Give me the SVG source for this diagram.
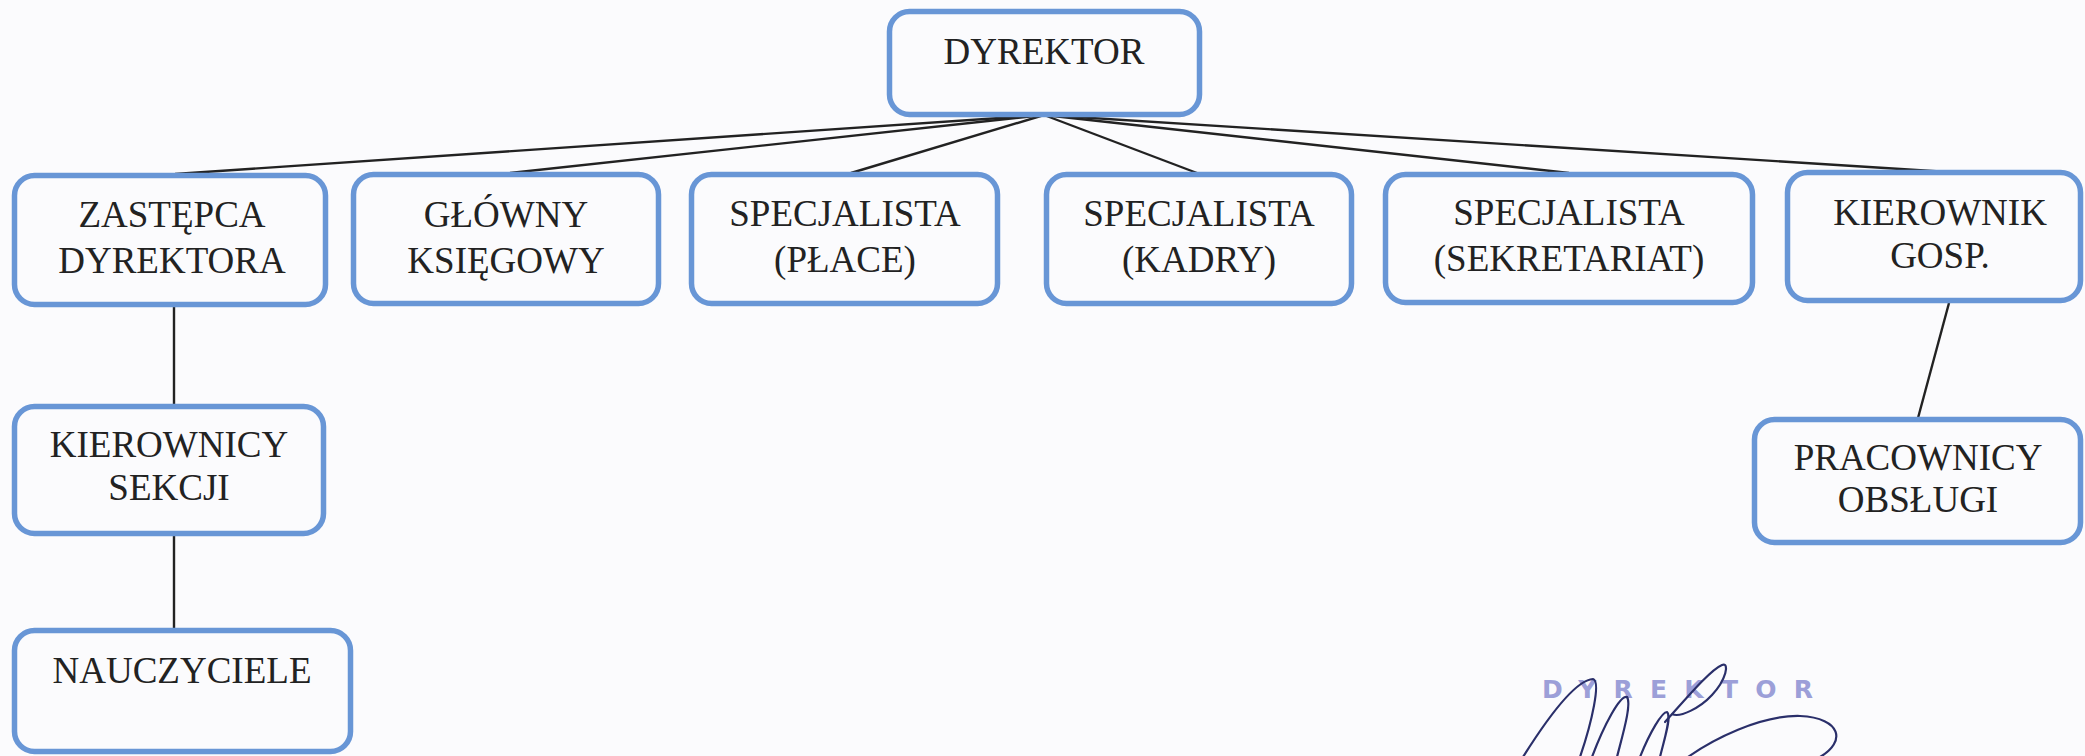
<svg xmlns="http://www.w3.org/2000/svg" width="2085" height="756" viewBox="0 0 2085 756">
  <style>
    .box { fill: #fbfbfd; stroke: #6896d6; stroke-width: 5.5; }
    .lbl { font-family: "Liberation Serif", "Times New Roman", serif; font-size: 37px; fill: #222; text-anchor: middle; }
    .conn line { stroke: #222; stroke-width: 2.4; }
    .stamp { font-family: "DejaVu Sans", "Liberation Sans", sans-serif; font-weight: bold; font-size: 25px; fill: #9c9fd8; }
    .sig { fill: none; stroke: #2a2f6a; stroke-width: 2.2; stroke-linecap: round; }
  </style>
  <rect x="0" y="0" width="2085" height="756" fill="#fbfbfd"/>

  <g id="connectors" class="conn">
    <line x1="1044" y1="115" x2="175" y2="174"/>
    <line x1="1044" y1="115" x2="510" y2="173"/>
    <line x1="1044" y1="115" x2="851" y2="173"/>
    <line x1="1044" y1="115" x2="1197" y2="173"/>
    <line x1="1044" y1="115" x2="1569" y2="173"/>
    <line x1="1044" y1="115" x2="1948" y2="172"/>
    <line x1="174" y1="307" x2="174" y2="405"/>
    <line x1="174" y1="535" x2="174" y2="629"/>
    <line x1="1949" y1="303" x2="1918" y2="418"/>
  </g>

  <g id="n-dyrektor">
    <rect class="box" x="889.5" y="11.5" width="310" height="103" rx="20"/>
    <text class="lbl" x="1044" y="64">DYREKTOR</text>
  </g>

  <g id="n-zastepca">
    <rect class="box" x="14.5" y="175.5" width="311" height="129" rx="20"/>
    <text class="lbl" x="172" y="227">ZASTĘPCA</text>
    <text class="lbl" x="172" y="273">DYREKTORA</text>
  </g>

  <g id="n-glowny">
    <rect class="box" x="353.5" y="174.5" width="305" height="129" rx="20"/>
    <text class="lbl" x="506" y="227">GŁÓWNY</text>
    <text class="lbl" x="506" y="273">KSIĘGOWY</text>
  </g>

  <g id="n-place">
    <rect class="box" x="691.5" y="174.5" width="306" height="129" rx="20"/>
    <text class="lbl" x="845" y="226">SPECJALISTA</text>
    <text class="lbl" x="845" y="272">(PŁACE)</text>
  </g>

  <g id="n-kadry">
    <rect class="box" x="1046.5" y="174.5" width="305" height="129" rx="20"/>
    <text class="lbl" x="1199" y="226">SPECJALISTA</text>
    <text class="lbl" x="1199" y="272">(KADRY)</text>
  </g>

  <g id="n-sekretariat">
    <rect class="box" x="1385.5" y="174.5" width="367" height="128" rx="20"/>
    <text class="lbl" x="1569" y="225">SPECJALISTA</text>
    <text class="lbl" x="1569" y="271">(SEKRETARIAT)</text>
  </g>

  <g id="n-kierownik">
    <rect class="box" x="1787.5" y="172.5" width="293" height="128" rx="20"/>
    <text class="lbl" x="1940" y="225">KIEROWNIK</text>
    <text class="lbl" x="1940" y="268">GOSP.</text>
  </g>

  <g id="n-kierownicy">
    <rect class="box" x="14.5" y="406.5" width="309" height="127" rx="20"/>
    <text class="lbl" x="169" y="457">KIEROWNICY</text>
    <text class="lbl" x="169" y="500">SEKCJI</text>
  </g>

  <g id="n-nauczyciele">
    <rect class="box" x="14.5" y="630.5" width="336" height="121" rx="20"/>
    <text class="lbl" x="182" y="683">NAUCZYCIELE</text>
  </g>

  <g id="n-pracownicy">
    <rect class="box" x="1754.5" y="419.5" width="326" height="123" rx="20"/>
    <text class="lbl" x="1918" y="470">PRACOWNICY</text>
    <text class="lbl" x="1918" y="512">OBSŁUGI</text>
  </g>

  <g id="stamp">
    <text class="stamp" x="1542" y="698" textLength="271" lengthAdjust="spacing">DYREKTOR</text>
    <path class="sig" d="M1523,757 C1545,722 1575,680 1593,679 C1601,681 1592,722 1580,757"/>
    <path class="sig" d="M1592,757 C1604,725 1620,695 1627,697 C1632,704 1622,737 1617,757"/>
    <path class="sig" d="M1640,757 C1650,732 1662,712 1667,712 C1672,716 1664,740 1660,757"/>
    <path class="sig" d="M1665,722 C1685,700 1710,670 1722,665 C1730,662 1726,680 1712,695 C1700,708 1680,718 1672,714"/>
    <path class="sig" d="M1688,757 C1712,740 1760,715 1800,716 C1842,718 1846,742 1820,757"/>
  </g>
</svg>
